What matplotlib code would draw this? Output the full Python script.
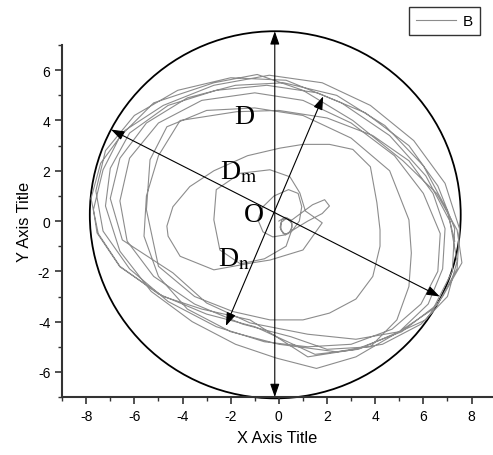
import matplotlib
matplotlib.use("Agg")
import matplotlib.pyplot as plt
import numpy as np
from matplotlib.patches import Ellipse

plt.rcParams["font.family"] = ["Liberation Sans", "DejaVu Sans"]
plt.rcParams["axes.unicode_minus"] = False
plt.rcParams["mathtext.fontset"] = "stix"

# ---------------------------------------------------------------------------
# Trajectory "B" (segment by segment)
# ---------------------------------------------------------------------------

core_x = [0.00, 0.25, 0.50, 0.55, 0.40, 0.18, 0.05, 0.12, 0.35, 0.55, 0.50, 0.28, 0.08, 0.10, 0.30, 0.48]
core_y = [0.00, 0.15, 0.05, -0.25, -0.50, -0.50, -0.25, 0.05, 0.12, -0.10, -0.40, -0.55, -0.35, -0.05, 0.10, 0.00]

petal_x = [0.90, 1.40, 1.90, 2.10, 1.80, 1.20, 0.60, 0.25]
petal_y = [0.30, 0.65, 0.85, 0.60, 0.30, 0.00, -0.35, -0.55]

ring1_x = [-0.25, -0.66, -0.87, -0.66, -0.20, 0.40, 0.80, 0.95, 0.85, 0.50]
ring1_y = [-0.63, -0.43, 0.05, 0.57, 1.00, 1.25, 1.10, 0.57, 0.00, -0.45]

ring2_x = [0.30, -0.60, -1.60, -2.45, -2.70, -2.60, -1.60, -0.37, 0.46, 0.87, 1.10, 1.80, 1.00, -0.37]
ring2_y = [-1.00, -1.50, -1.70, -1.15, 0.05, 1.25, 1.90, 2.04, 1.76, 1.12, 0.40, -0.07, -1.15, -1.55]

ring3_x = [-1.10, -2.70, -4.10, -4.60, -4.65, -4.40, -3.70, -2.70, -1.30, 0.04, 1.00, 2.10, 3.07, 3.80,
           4.07, 4.20, 4.20, 3.90, 3.20, 2.10, 1.00, -0.37, -1.90]
ring3_y = [-1.66, -1.94, -1.40, -0.60, -0.20, 0.57, 1.37, 2.00, 2.60, 2.90, 3.05, 3.05, 2.85, 2.16,
           0.73, -0.35, -1.00, -2.20, -3.10, -3.66, -3.93, -3.93, -3.60]

ring4_x = [-3.50, -5.00, -5.50, -5.35, -4.65, -3.00, -1.00, 1.00, 3.00, 4.60, 5.40, 5.50, 5.40, 4.90, 3.80, 2.00]
ring4_y = [-3.00, -1.80, 0.45, 2.44, 3.75, 4.40, 4.50, 4.20, 3.30, 2.00, 0.05, -1.27, -2.60, -3.93, -5.00, -5.10]

loop1_x = [0.5, -1.5, -3.5, -5.2, -6.3, -6.6, -6.2, -5.0, -3.2, -1.0, 1.0, 3.0, 4.8, 6.0, 6.7, 6.6, 5.9, 4.7, 3.0, 1.2]
loop1_y = [-4.6, -4.1, -3.3, -2.2, -0.8, 0.8, 2.5, 3.9, 4.8, 5.1, 4.8, 3.9, 2.6, 1.1, -0.5, -2.0, -3.3, -4.3, -4.9, -5.0]

loop2_x = [-0.6, -2.6, -4.6, -6.2, -7.3, -7.6, -7.2, -6.0, -4.2, -2.0, 0.3, 2.6, 4.6, 6.1, 7.1, 7.4, 7.0, 5.9, 4.3, 2.4]
loop2_y = [-4.8, -4.2, -3.2, -1.9, -0.4, 1.2, 2.8, 4.2, 5.2, 5.7, 5.6, 4.7, 3.4, 1.8, 0.0, -1.6, -3.0, -4.1, -4.9, -5.2]

loop3_x = [0.0, -2.0, -3.8, -5.0, -5.6, -5.5, -5.0, -4.1, -1.75, 0.0, 2.0, 3.9, 5.4, 6.4, 6.9, 6.8, 6.2, 5.0, 3.3, 1.5]
loop3_y = [-4.9, -4.4, -3.5, -2.2, -0.6, 1.0, 2.6, 4.0, 4.35, 4.40, 4.1, 3.4, 2.4, 1.1, -0.3, -1.9, -3.3, -4.4, -5.1, -5.3]

loop4_x = [-1.0, -3.0, -5.0, -6.6, -7.5, -7.8, -7.4, -6.4, -4.8, -2.7, -0.4, 1.8, 3.8, 5.6, 6.9, 7.5, 7.4, 6.6, 5.1, 3.2, 1.2]
loop4_y = [-4.2, -3.7, -2.9, -1.8, -0.5, 0.9, 2.3, 3.6, 4.6, 5.4, 5.8, 5.5, 4.6, 3.2, 1.5, -0.3, -1.9, -3.3, -4.4, -5.1, -5.4]

loop5_x = [-1.2, -3.2, -4.8, -6.6, -7.55, -7.7, -7.3, -6.6, -5.2, -2.7, -0.9, 1.0, 3.07, 5.15, 6.55,
           7.4, 7.6, 6.8, 6.1, 4.9, 3.2, 1.56]
loop5_y = [-3.93, -3.5, -3.0, -1.82, -0.47, 0.45, 2.04, 3.36, 4.7, 5.5, 5.83, 5.2, 4.0, 2.4, 1.1,
           -0.35, -1.66, -3.0, -3.93, -4.45, -5.4, -5.86]

loop6_x = [-0.1, -1.8, -3.6, -5.3, -6.6, -7.2, -7.0, -6.2, -4.6, -2.6, -0.5, 1.6, 3.6, 5.4, 6.6,
           7.3, 7.2, 6.4, 5.0, 3.2, 1.2, -1.2, -3.0, -4.4, -6.5]
loop6_y = [-5.45, -4.9, -4.0, -2.8, -1.2, 0.6, 2.1, 3.5, 4.6, 5.2, 5.4, 5.1, 4.3, 3.0, 1.4,
           -0.3, -2.0, -3.5, -4.4, -4.7, -4.5, -4.05, -3.26, -2.06, -0.75]

loop7_x = [-7.0, -6.6, -5.5, -3.8, -1.8, 0.2, 2.4, 4.4, 6.0, 7.0, 7.3]
loop7_y = [0.9, 2.5, 3.9, 4.9, 5.4, 5.5, 5.0, 3.8, 2.2, 0.4, -0.8]

segments_x = [core_x, petal_x, ring1_x, ring2_x, ring3_x, ring4_x,
              loop1_x, loop2_x, loop3_x, loop4_x, loop5_x, loop6_x, loop7_x]
segments_y = [core_y, petal_y, ring1_y, ring2_y, ring3_y, ring4_y,
              loop1_y, loop2_y, loop3_y, loop4_y, loop5_y, loop6_y, loop7_y]

traj_x = np.concatenate(segments_x)
traj_y = np.concatenate(segments_y)

# Annotation geometry (data coordinates)
circle_center = (-0.15, 0.25)
circle_size = (15.4, 14.6)

arrows = [
    ((-0.17, 7.55), (-0.17, -7.0)),   # vertical diameter
    ((-6.97, 3.64), (6.68, -3.0)),    # D
    ((-2.20, -4.17), (1.84, 4.96)),   # Dm / Dn
]

labels = ["D", r"D$_{\rm m}$", r"D$_{\rm n}$", "O"]
label_pos = [(-1.45, 4.15), (-1.65, 1.95), (-1.85, -1.5), (-1.05, 0.25)]

# ---------------------------------------------------------------------------
# Plot
# ---------------------------------------------------------------------------

fig = plt.figure(figsize=(4.93, 4.56), dpi=100)
ax = fig.add_axes([0.126, 0.127, 0.872, 0.772])

line, = ax.plot(traj_x, traj_y, color="#8c8c8c", linewidth=0.8, label="B")

ax.add_patch(Ellipse(circle_center, circle_size[0], circle_size[1], fill=False,
                     edgecolor="black", linewidth=1.3, clip_on=False))

for start, end in arrows:
    ax.annotate("", xy=end, xytext=start, annotation_clip=False,
                arrowprops=dict(arrowstyle="<|-|>,head_length=0.8,head_width=0.28",
                                color="black", linewidth=0.8,
                                shrinkA=0, shrinkB=0))

for text, (x, y) in zip(labels, label_pos):
    ax.text(x, y, text, fontsize=20, family=["Liberation Serif", "DejaVu Serif"],
            ha="center", va="center")

ax.set_xlim(-9, 8.85)
ax.set_ylim(-7, 7)
ax.set_xticks(np.arange(-8, 9, 2))
ax.set_yticks(np.arange(-6, 7, 2))
ax.set_xticks(np.arange(-9, 9, 1), minor=True)
ax.set_yticks(np.arange(-7, 8, 1), minor=True)

for side in ["top", "right"]:
    ax.spines[side].set_visible(False)
for side in ["left", "bottom"]:
    ax.spines[side].set_color("#333333")
    ax.spines[side].set_linewidth(1.5)

ax.tick_params(which="major", direction="out", length=5, width=1.2, color="#333333", labelsize=10)
ax.tick_params(which="minor", direction="out", length=3, width=1.0, color="#333333")

ax.set_xlabel("X Axis Title", fontsize=11.8, labelpad=5)
ax.set_ylabel("Y Axis Title", fontsize=11.8, labelpad=4)

fig.legend(handles=[line], loc="upper right", bbox_to_anchor=(0.974, 0.982),
           fancybox=False, edgecolor="#333333", fontsize=11, handlelength=2.6,
           handletextpad=0.5, borderpad=0.45, borderaxespad=0, framealpha=1)

fig.savefig("out.png", dpi=100)
